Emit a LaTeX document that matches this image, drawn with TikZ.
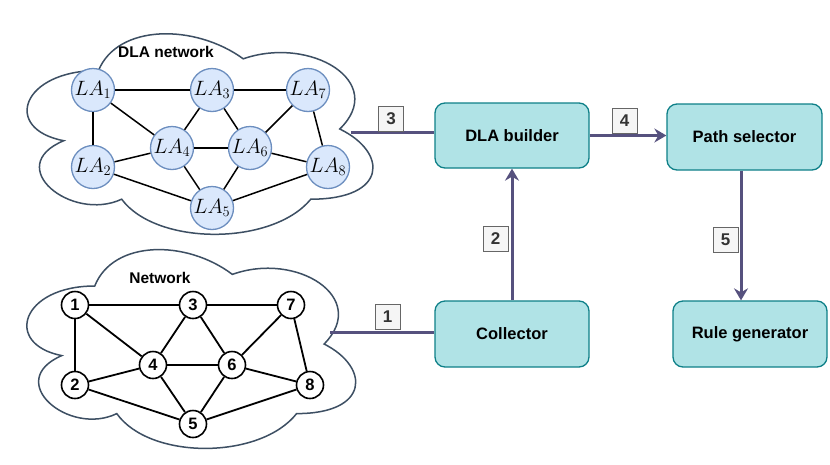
\documentclass[tikz,border=0pt]{standalone}
\usepackage{fontspec}
\setsansfont{Liberation Sans}
\usetikzlibrary{arrows.meta}
\definecolor{cloudc}{HTML}{3D4F63}
\definecolor{lafill}{HTML}{DAE8FC}
\definecolor{laborder}{HTML}{6C8EBF}
\definecolor{boxfill}{HTML}{B0E3E6}
\definecolor{boxedge}{HTML}{0E8088}
\definecolor{arrc}{HTML}{56517E}
\definecolor{tagfill}{HTML}{F5F5F5}
\definecolor{tagedge}{HTML}{666666}
\definecolor{tagtext}{HTML}{333333}
\newcommand{\mycloudpath}{(0.25,0.25) .. controls (0.05,0.25) and (0,0.5) .. (0.16,0.55) .. controls (0,0.66) and (0.18,0.9) .. (0.31,0.8) .. controls (0.4,1) and (0.7,1) .. (0.8,0.8) .. controls (1,0.8) and (1,0.6) .. (0.875,0.5) .. controls (1,0.3) and (0.8,0.1) .. (0.625,0.2) .. controls (0.5,0.05) and (0.3,0.05) .. (0.25,0.25) -- cycle}
\begin{document}
\begin{tikzpicture}[x=1pt,y=-1pt,
  lanode/.style={circle, draw=laborder, fill=lafill, line width=1.3pt, minimum size=43pt, inner sep=0pt, font=\fontsize{22}{22}\selectfont},
  netnode/.style={circle, draw=black, fill=white, line width=1.6pt, minimum size=27pt, inner sep=0pt, font=\sffamily\bfseries\fontsize{16.5}{16.5}\selectfont},
  laline/.style={draw=black, line width=1.5pt},
  netline/.style={draw=black, line width=1.8pt},
  procbox/.style={rectangle, rounded corners=10pt, draw=boxedge, fill=boxfill, line width=1.3pt, minimum width=154pt, minimum height=65pt, inner sep=0pt, font=\sffamily\bfseries\fontsize{16.5}{16.5}\selectfont},
  tag/.style={rectangle, draw=tagedge, fill=tagfill, line width=1pt, minimum size=25pt, inner sep=0pt, text=tagtext, font=\sffamily\bfseries\fontsize{17}{17}\selectfont},
  cloudtitle/.style={font=\sffamily\bfseries\fontsize{15.5}{15.5}\selectfont, inner sep=0pt},
  cloudline/.style={draw=cloudc, line width=1.5pt, fill=white},
  flow/.style={draw=arrc, line width=3pt},
  flowarr/.style={flow, -{Stealth[length=12pt,width=14pt,inset=4pt]}}]
\useasboundingbox (0,0) rectangle (830,464);
\fill[white] (0,0) rectangle (830,464);
% clouds
\begin{scope}[shift={(2,12)}, xscale=386, yscale=234]
  \draw[cloudline] \mycloudpath;
\end{scope}
\begin{scope}[shift={(3,228)}, xscale=367, yscale=232]
  \draw[cloudline] \mycloudpath;
\end{scope}
\node[cloudtitle] (t1) at (166,52) {DLA network};
\node[cloudtitle] (t2) at (160,278) {Network};
% DLA network nodes
\node[lanode] (L1) at (93,90) {$LA_1$};
\node[lanode] (L3) at (212,90) {$LA_3$};
\node[lanode] (L7) at (308,90) {$LA_7$};
\node[lanode] (L2) at (93,167) {$LA_2$};
\node[lanode] (L4) at (172,148) {$LA_4$};
\node[lanode] (L6) at (250,148) {$LA_6$};
\node[lanode] (L8) at (328,167) {$LA_8$};
\node[lanode] (L5) at (212,208) {$LA_5$};
\foreach \a/\b in {L1/L3,L3/L7,L1/L2,L1/L4,L3/L4,L3/L6,L7/L6,L7/L8,L4/L6,L2/L4,L2/L5,L4/L5,L6/L5,L6/L8,L5/L8}
  \draw[laline] (\a) -- (\b);
% Network nodes
\node[netnode] (N1) at (75,305) {1};
\node[netnode] (N3) at (193,305) {3};
\node[netnode] (N7) at (291,305) {7};
\node[netnode] (N2) at (75,385) {2};
\node[netnode] (N4) at (153,365) {4};
\node[netnode] (N6) at (232,365) {6};
\node[netnode] (N8) at (310,385) {8};
\node[netnode] (N5) at (193,424) {5};
\foreach \a/\b in {N1/N3,N3/N7,N1/N2,N1/N4,N3/N4,N3/N6,N7/N6,N7/N8,N4/N6,N2/N4,N2/N5,N4/N5,N6/N5,N6/N8,N5/N8}
  \draw[netline] (\a) -- (\b);
% process boxes
\node[procbox] (dla) at (512,135.5) {DLA builder};
\node[procbox, minimum width=155pt, minimum height=66pt] (ps) at (744.5,137) {Path selector};
\node[procbox, minimum height=66pt] (coll) at (512,334) {Collector};
\node[procbox, minimum height=66pt] (rg) at (750,334) {Rule generator};
% connectors
\coordinate (c3) at (351,132.5);
\coordinate (c1) at (330,332);
\draw[flow] (c3) -- (c3 -| dla.west);
\draw[flow] (c1) -- (c1 -| coll.west);
\draw[flowarr] (coll.north) -- (dla.south);
\draw[flowarr] (dla.east) -- (dla.east -| ps.west);
\coordinate (p5) at ([xshift=-3.5pt]ps.south);
\draw[flowarr] (p5) -- (p5 |- rg.north);
% tags
\node[tag] (g3) at (391,118.5) {3};
\node[tag] (g1) at (387.5,317) {1};
\node[tag] (g2) at (495.5,239) {2};
\node[tag] (g4) at (624.5,120.5) {4};
\node[tag] (g5) at (725.5,239.5) {5};
\end{tikzpicture}
\end{document}
